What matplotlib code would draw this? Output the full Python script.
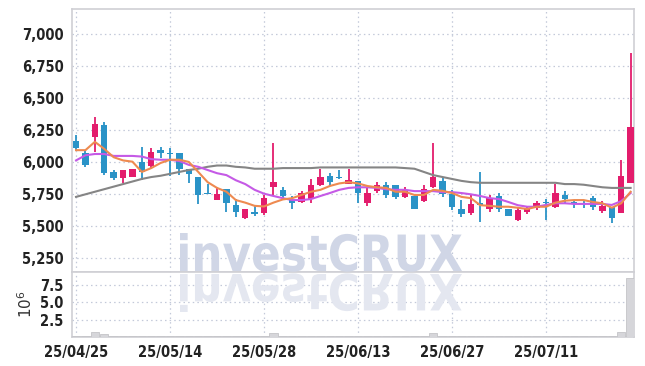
import numpy as np
import matplotlib
matplotlib.use("Agg")
import matplotlib.pyplot as plt
from matplotlib.textpath import TextPath
from matplotlib.font_manager import FontProperties
from matplotlib.patches import PathPatch
from matplotlib.transforms import Affine2D, IdentityTransform

# daily prices (60 trading days)
opens = [6160, 6070, 6190, 6290, 5920, 5870, 5880, 5995, 5965, 6090,
         6070, 6065, 5945, 5880, 5750, 5700, 5785, 5660, 5560, 5610,
         5600, 5800, 5780, 5700, 5685, 5710, 5820, 5890, 5875, 5825,
         5850, 5680, 5770, 5820, 5820, 5725, 5730, 5690, 5800, 5850,
         5750, 5630, 5600, 5675, 5630, 5730, 5630, 5545, 5610, 5640,
         5680, 5645, 5740, 5680, 5675, 5715, 5615, 5645, 5600, 5830]
highs = [6210, 6090, 6350, 6310, 5935, 5935, 5940, 6115, 6105, 6115,
         6110, 6065, 5945, 5880, 5825, 5805, 5785, 5710, 5630, 5655,
         5740, 6145, 5800, 5730, 5770, 5865, 5940, 5910, 5935, 5940,
         5850, 5795, 5840, 5840, 5820, 5800, 5735, 5815, 6145, 5880,
         5780, 5700, 5750, 5920, 5740, 5755, 5630, 5645, 5645, 5690,
         5710, 5825, 5770, 5700, 5690, 5730, 5690, 5645, 6015, 6850]
lows = [6090, 5960, 6075, 5895, 5860, 5835, 5880, 5855, 5945, 6030,
        5890, 5895, 5830, 5670, 5745, 5700, 5605, 5565, 5555, 5575,
        5580, 5740, 5705, 5630, 5675, 5675, 5810, 5810, 5865, 5825,
        5680, 5655, 5755, 5715, 5710, 5715, 5630, 5685, 5795, 5725,
        5620, 5570, 5585, 5525, 5605, 5605, 5575, 5540, 5595, 5620,
        5545, 5640, 5675, 5640, 5640, 5620, 5600, 5520, 5600, 5830]
closes = [6110, 5975, 6295, 5910, 5870, 5935, 5940, 5920, 6075, 6065,
          6060, 5945, 5905, 5740, 5745, 5750, 5675, 5605, 5630, 5590,
          5715, 5840, 5730, 5675, 5755, 5820, 5880, 5840, 5870, 5855,
          5755, 5755, 5815, 5740, 5725, 5780, 5630, 5790, 5880, 5750,
          5645, 5595, 5670, 5665, 5720, 5630, 5575, 5620, 5630, 5680,
          5675, 5755, 5710, 5675, 5670, 5645, 5655, 5560, 5890, 6270]

# moving average lines as drawn
ma_short = [6090, 6090, 6155, 6100, 6035, 6010, 6000, 5920, 5950, 5990,
            6015, 6015, 5998, 5920, 5840, 5795, 5765, 5700, 5680, 5655,
            5650, 5680, 5705, 5715, 5740, 5765, 5780, 5810, 5830, 5840,
            5830, 5810, 5800, 5795, 5765, 5765, 5740, 5740, 5780, 5772,
            5755, 5725, 5715, 5660, 5655, 5648, 5648, 5640, 5630, 5648,
            5648, 5680, 5695, 5700, 5700, 5685, 5675, 5640, 5675, 5765]
ma_mid = [6010, 6050, 6060, 6060, 6045, 6045, 6045, 6040, 6020, 6015,
          6015, 6005, 5975, 5960, 5935, 5910, 5895, 5855, 5825, 5780,
          5750, 5732, 5715, 5700, 5700, 5708, 5732, 5755, 5780, 5795,
          5800, 5800, 5795, 5785, 5780, 5780, 5770, 5770, 5770, 5762,
          5762, 5755, 5745, 5732, 5715, 5708, 5685, 5660, 5648, 5648,
          5662, 5675, 5675, 5670, 5670, 5670, 5670, 5662, 5692, 5755]
ma_long = [5725, 5745, 5765, 5785, 5805, 5825, 5845, 5865, 5880, 5890,
           5905, 5920, 5935, 5945, 5960, 5970, 5970, 5960, 5955, 5945,
           5945, 5945, 5950, 5950, 5950, 5950, 5955, 5955, 5955, 5955,
           5955, 5955, 5955, 5955, 5955, 5950, 5945, 5920, 5895, 5880,
           5865, 5850, 5840, 5835, 5835, 5835, 5835, 5835, 5835, 5835,
           5835, 5835, 5825, 5825, 5820, 5810, 5800, 5795, 5795, 5795]

# volume in millions
volume = [0.12, 0.10, 0.70, 0.45, 0.20, 0.10, 0.08, 0.15, 0.12, 0.10,
          0.12, 0.10, 0.10, 0.15, 0.15, 0.12, 0.15, 0.10, 0.10, 0.08,
          0.15, 0.55, 0.12, 0.08, 0.15, 0.20, 0.20, 0.10, 0.08, 0.08,
          0.15, 0.10, 0.15, 0.10, 0.08, 0.08, 0.10, 0.15, 0.55, 0.20,
          0.15, 0.10, 0.10, 0.20, 0.10, 0.10, 0.08, 0.12, 0.08, 0.08,
          0.10, 0.15, 0.10, 0.08, 0.08, 0.10, 0.08, 0.15, 0.70, 8.50]

date_labels = ["25/04/25", "25/05/14", "25/05/28", "25/06/13", "25/06/27", "25/07/11"]
date_pos = [0, 10, 20, 30, 40, 50]
price_ticks = [5250, 5500, 5750, 6000, 6250, 6500, 6750, 7000]
vol_ticks = [2.5, 5.0, 7.5]

up_col = "#e31c6c"
down_col = "#2a93c7"
grid_col = "#c3c9d9"
spine_col = "#cfcfd4"

tick_font = FontProperties(family="DejaVu Sans", weight="bold", stretch="condensed", size=10.5)

fig = plt.figure(figsize=(6.45, 3.66), dpi=100)
ax = fig.add_axes([72/645, 1-272/366, 562/645, 263/366])
axv = fig.add_axes([72/645, 1-337/366, 562/645, 65/366], sharex=ax)

x = np.arange(len(closes))
o = np.array(opens); c = np.array(closes)
cols = [up_col if cc >= oo else down_col for oo, cc in zip(opens, closes)]
body_lo = np.minimum(o, c)
body_h = np.maximum(np.abs(c - o), 8)

ax.vlines(x, lows, highs, colors=cols, linewidth=1.3, zorder=3)
ax.bar(x, body_h, bottom=body_lo, width=0.68, color=cols, zorder=4)

ax.plot(x, ma_long, color="#858585", linewidth=1.5, zorder=5)
ax.plot(x, ma_mid, color="#c55ae6", linewidth=1.5, zorder=5)
ax.plot(x, ma_short, color="#ee8a50", linewidth=1.5, zorder=5)

axv.bar(x, volume, width=0.9, color="#d6d6da", edgecolor="#c4c4c8", linewidth=0.6, zorder=3)

ax.set_xlim(-0.43, 59.36)
ax.set_ylim(5138, 7193)
axv.set_ylim(0, 9.4)

ax.set_yticks(price_ticks)
ax.set_yticklabels([f"{v:,}" for v in price_ticks])
axv.set_yticks(vol_ticks)
axv.set_yticklabels([f"{v:.1f}" for v in vol_ticks])
axv.set_xticks(date_pos)
axv.set_xticklabels(date_labels)
ax.tick_params(axis="x", labelbottom=False)
axv.set_ylabel(r"$10^6$", fontsize=11, color="#333333")
axv.yaxis.set_label_coords(-0.066, 0.5)

for a in (ax, axv):
    a.grid(True, linestyle=(0, (1.2, 2.5)), color=grid_col, linewidth=0.9)
    a.set_axisbelow(True)
    a.tick_params(length=0, colors="#222222", pad=6)
    for s in a.spines.values():
        s.set_color(spine_col)
        s.set_linewidth(1.2)
    for lab in a.get_xticklabels() + a.get_yticklabels():
        lab.set_fontproperties(tick_font)

# watermark with its reflection
fp = FontProperties(family="DejaVu Sans", weight="bold", stretch="condensed")
tp = TextPath((0, 0), "investCRUX", size=1, prop=fp)
bb = tp.get_extents()
x0, x1 = 180, 462
ytop, ybase = 366 - 233, 366 - 271
sx = (x1 - x0) / bb.width
sy = (ytop - ybase) / bb.y1
mark = Affine2D().translate(-bb.x0, 0).scale(sx, sy).translate(x0, ybase)
refl = Affine2D().translate(-bb.x0, 0).scale(sx, -sy).translate(x0, ybase - 3)
fig.add_artist(PathPatch(mark.transform_path(tp), facecolor="#d0d6e6", edgecolor="none",
                         transform=IdentityTransform(), zorder=2))
fig.add_artist(PathPatch(refl.transform_path(tp), facecolor="#e4e7f0", edgecolor="none",
                         transform=IdentityTransform(), zorder=2))

plt.savefig("out.png", dpi=100)
